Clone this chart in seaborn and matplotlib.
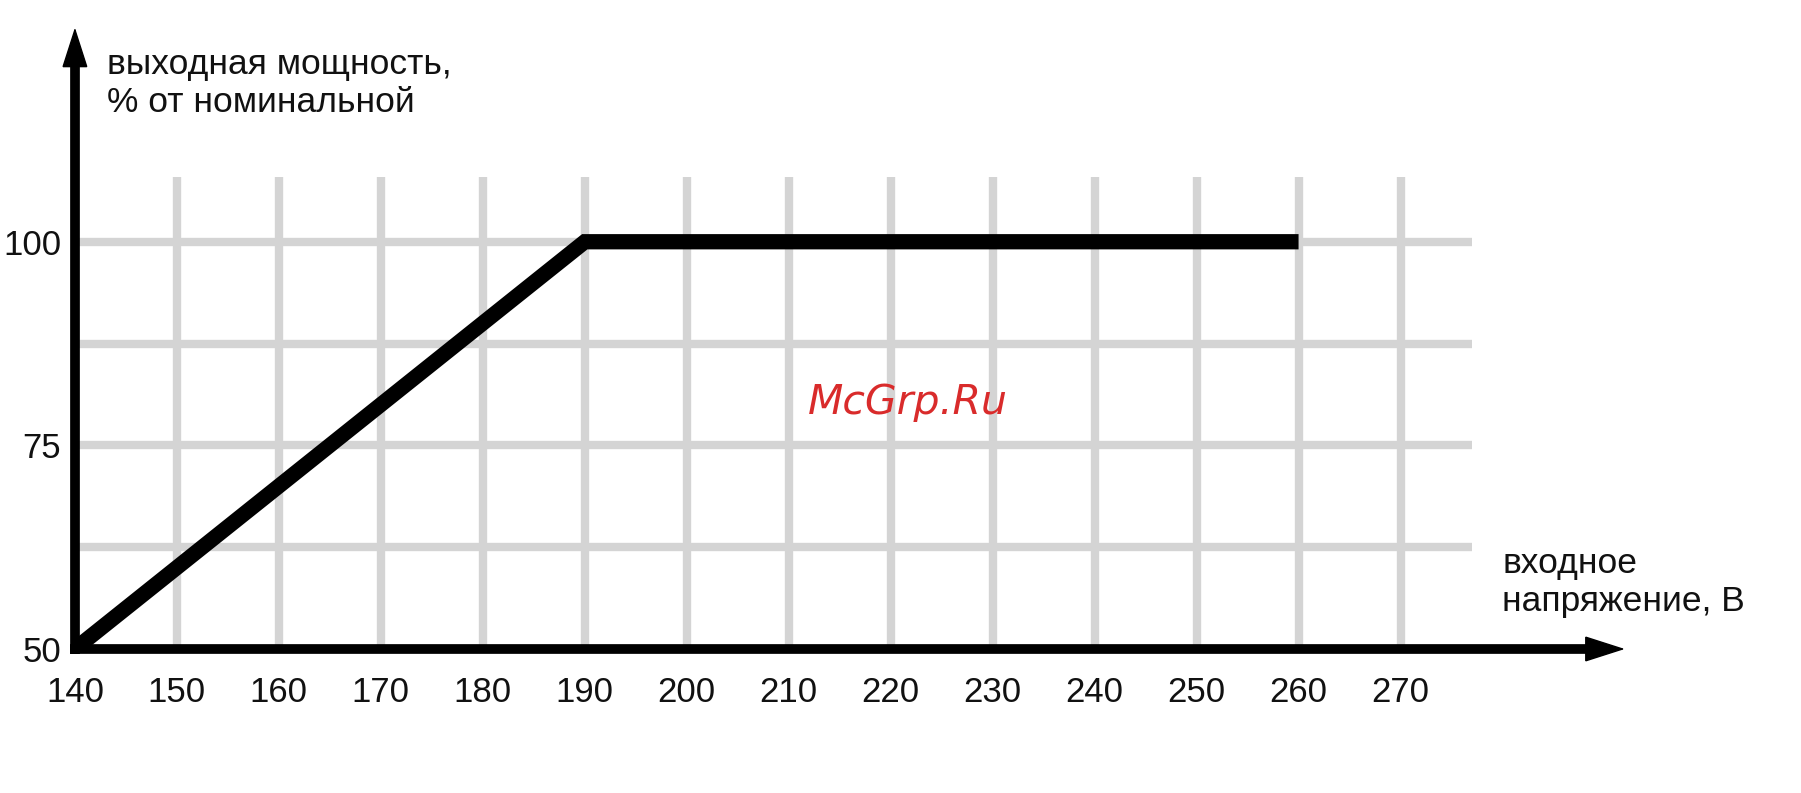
import matplotlib
matplotlib.use('Agg')
import matplotlib.pyplot as plt
from matplotlib.patches import ArrowStyle
import seaborn as sns

sns.set_theme(style='white')
plt.rcParams['font.family'] = ['Liberation Sans', 'DejaVu Sans']

# data
voltage = [140, 190, 260]
power = [50, 100, 100]
x_ticks = [140, 150, 160, 170, 180, 190, 200, 210, 220, 230, 240, 250, 260, 270]
y_ticks = [50, 75, 100]
y_grid = [62.5, 75, 87.5, 100]
y_title = 'выходная мощность,\n% от номинальной'
x_title = 'входное\nнапряжение, В'
watermark = 'McGrp.Ru'

fig = plt.figure(figsize=(18.01, 7.93), dpi=100)
ax = fig.add_axes([0.0416, 0.1816, 0.8606, 0.7806])
ax.set_xlim(140, 292)
ax.set_ylim(50, 126)
for s in ax.spines.values():
    s.set_visible(False)
ax.grid(False)

grid_kw = dict(color='#d4d4d4', linewidth=6, zorder=1)
ax.vlines(x_ticks[1:], 50, 108, **grid_kw)
ax.hlines(y_grid, 140, 277, **grid_kw)

sns.lineplot(x=voltage, y=power, ax=ax, color='black', linewidth=11,
             solid_capstyle='butt', solid_joinstyle='miter', zorder=3)

# axis shafts and sharp arrowheads
shaft_kw = dict(color='black', lw=7, solid_capstyle='butt', clip_on=False, zorder=4)
ax.plot([139.55, 289], [50, 50], **shaft_kw)
ax.plot([140, 140], [49.4, 122], **shaft_kw)
head = ArrowStyle('-|>', head_length=2.65, head_width=0.85)
arrow_kw = dict(arrowstyle=head, lw=1, color='black', mutation_scale=10,
                shrinkA=0, shrinkB=0, joinstyle='miter')
ax.annotate('', xy=(292, 50), xytext=(285, 50), annotation_clip=False,
            arrowprops=arrow_kw, zorder=4)
ax.annotate('', xy=(140, 126.3), xytext=(140, 118), annotation_clip=False,
            arrowprops=arrow_kw, zorder=4)

ax.set_xticks(x_ticks)
ax.set_yticks(y_ticks)
ax.tick_params(axis='x', length=0, pad=19.5, labelsize=25, labelcolor='#111111')
ax.tick_params(axis='y', length=0, pad=10, labelsize=25, labelcolor='#111111')
ax.set_xlabel('')
ax.set_ylabel('')

fig.text(0.0594, 0.895, y_title, fontsize=25.5, va='center', ha='left',
         color='#111111', linespacing=1.2)
fig.text(0.834, 0.2655, x_title, fontsize=25.5, va='center', ha='left',
         color='#111111', linespacing=1.2)
ax.text(221.7, 80.3, watermark, fontsize=29.5, family='DejaVu Sans',
        style='italic', color='#d92b2b', ha='center', va='center', zorder=5)

fig.savefig('out.png', dpi=100)
